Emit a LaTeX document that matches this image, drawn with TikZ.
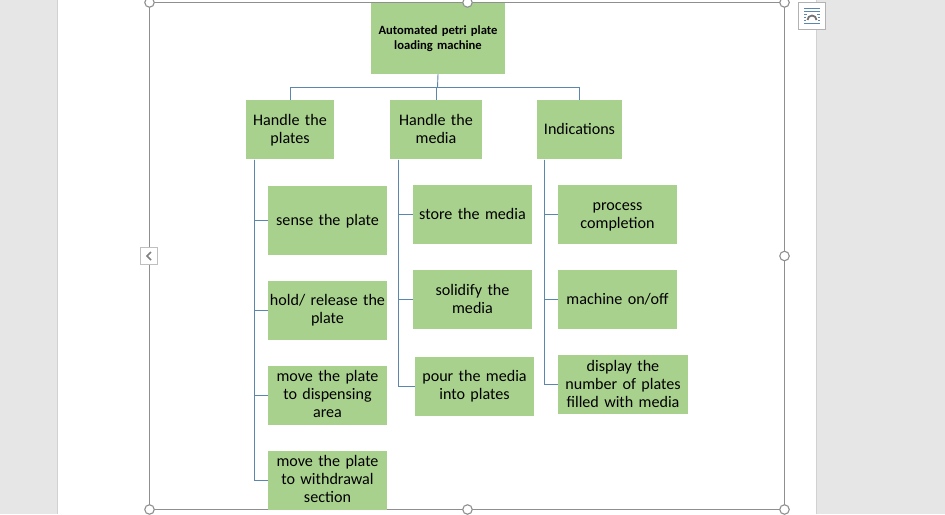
\documentclass[tikz,border=0pt]{standalone}
\usepackage{fontspec}
\setmainfont[WordSpace=0.85]{Carlito}
\definecolor{boxgreen}{HTML}{A9D18E}
\definecolor{linkblue}{HTML}{5B87AD}
\definecolor{pagegray}{HTML}{E6E6E6}
\definecolor{framegray}{HTML}{8F8F8F}
\tikzset{
  box/.style={fill=boxgreen,draw=none,inner sep=0pt,align=center,font=\fontsize{16.1}{18}\selectfont,text=black},
  rootbox/.style={box,font=\fontsize{12.6}{15}\selectfont\bfseries},
  link/.style={draw=linkblue,line width=0.9pt},
  handle/.style={circle,draw=framegray,fill=white,line width=1.1pt,minimum size=9.5pt,inner sep=0pt},
  frameline/.style={draw=framegray,line width=1pt},
  uibox/.style={draw=black!25,fill=white,line width=0.8pt,inner sep=0pt}
}
\newcommand{\bx}[7][box]{% style,name,x0,y0,x1,y1,text
  \node[#1,minimum width=#5pt-#3pt,minimum height=#6pt-#4pt,text width=#5pt-#3pt] (#2) at ({(#3+#5)/2},{(#4+#6)/2}) {#7};}
\newcommand{\dn}{\rule[-2pt]{0pt}{0pt}}
\begin{document}
\begin{tikzpicture}[x=1pt,y=-1pt]
\useasboundingbox (0,0) rectangle (945,514);
\fill[pagegray] (0,0) rectangle (945,514);
\fill[white] (57.5,0) rectangle (816,514);
\draw[black!18,line width=0.7pt] (57.5,0) -- (57.5,514) (816,0) -- (816,514);

% selection frame
\coordinate (fa) at (149.5,2.5);
\coordinate (fb) at (784.5,2.5);
\coordinate (fc) at (784.5,509.5);
\coordinate (fd) at (149.5,509.5);
\draw[frameline] (fa) -- (fb) -- (fc) -- (fd) -- cycle;

% boxes
\bx[rootbox]{root}{371}{3}{505}{74}{Automated petri plate\\loading machine}
\bx{h1}{246}{100}{334}{159}{\rule{0pt}{13.5pt}Handle the\\plates}
\bx{h2}{390}{100}{482}{159}{Handle the\\media\dn}
\bx{h3}{537}{100}{622}{159}{Indications\dn}
\bx{a1}{268}{186}{387}{255}{\rule{0pt}{13.5pt}sense the plate}
\bx{a2}{268}{281}{387}{340}{hold/ release the\\plate}
\bx{a3}{268}{366}{387}{425}{move the plate\\to dispensing\\area\rule[-4pt]{0pt}{0pt}}
\bx{a4}{268}{451}{387}{510}{move the plate\\to withdrawal\\section\rule[-4pt]{0pt}{0pt}}
\bx{b1}{413}{185}{532}{244}{store the media\dn}
\bx{b2}{413}{270}{532}{329}{solidify the\\media\dn}
\bx{b3}{415}{357}{534}{416}{pour the media\\into plates}
\bx{c1}{558}{185}{677}{244}{\rule{0pt}{13pt}process\\completion}
\bx{c2}{558}{270}{677}{329}{machine on/off}
\bx{c3}{558}{355}{688}{414}{display the\\number of plates\\filled with media\dn}

% connectors
\coordinate (bus) at (437.5,87.5);
\draw[link] (root.south) -- (bus);
\draw[link] (h1.north) |- (bus);
\draw[link] (h3.north) |- (bus);
\draw[link] (h2.north) |- (bus);
\coordinate (s1) at (254,159.5);
\coordinate (s2) at (398,159.5);
\coordinate (s3) at (544.5,159.5);
\foreach \k in {a1,a2,a3,a4} {\draw[link] (s1) |- (\k.west);}
\foreach \k in {b1,b2,b3} {\draw[link] (s2) |- (\k.west);}
\foreach \k in {c1,c2,c3} {\draw[link] (s3) |- (\k.west);}

% frame handles
\node[handle] (ha) at (149.5,2.5) {};
\node[handle] (hb) at (467.5,2.5) {};
\node[handle] (hc) at (784.5,2.5) {};
\node[handle] (hd) at (784.5,256) {};
\node[handle] (he) at (784.5,509.5) {};
\node[handle] (hf) at (467.5,509.5) {};
\node[handle] (hg) at (149.5,509.5) {};

% collapse tab
\node[uibox,minimum width=17pt,minimum height=17pt] (tab) at (149,256) {};
\draw[black!50,line width=1.5pt] (151,252) -- (147,256) -- (151,260);

% layout icon
\node[uibox,draw=black!30,minimum width=27pt,minimum height=27pt] (icon) at (812,16) {};
\draw[linkblue,line width=0.8pt]
  (804,8) -- (820,8) (804,11) -- (820,11)
  (804,14) -- (807,14) (817,14) -- (820,14)
  (804,17) -- (806,17) (818,17) -- (820,17)
  (804,20) -- (806,20) (818,20) -- (820,20)
  (804,23) -- (820,23);
\draw[black!55,line width=1.8pt] (807.5,20) arc[start angle=180,end angle=360,radius=4.5];
\end{tikzpicture}
\end{document}
